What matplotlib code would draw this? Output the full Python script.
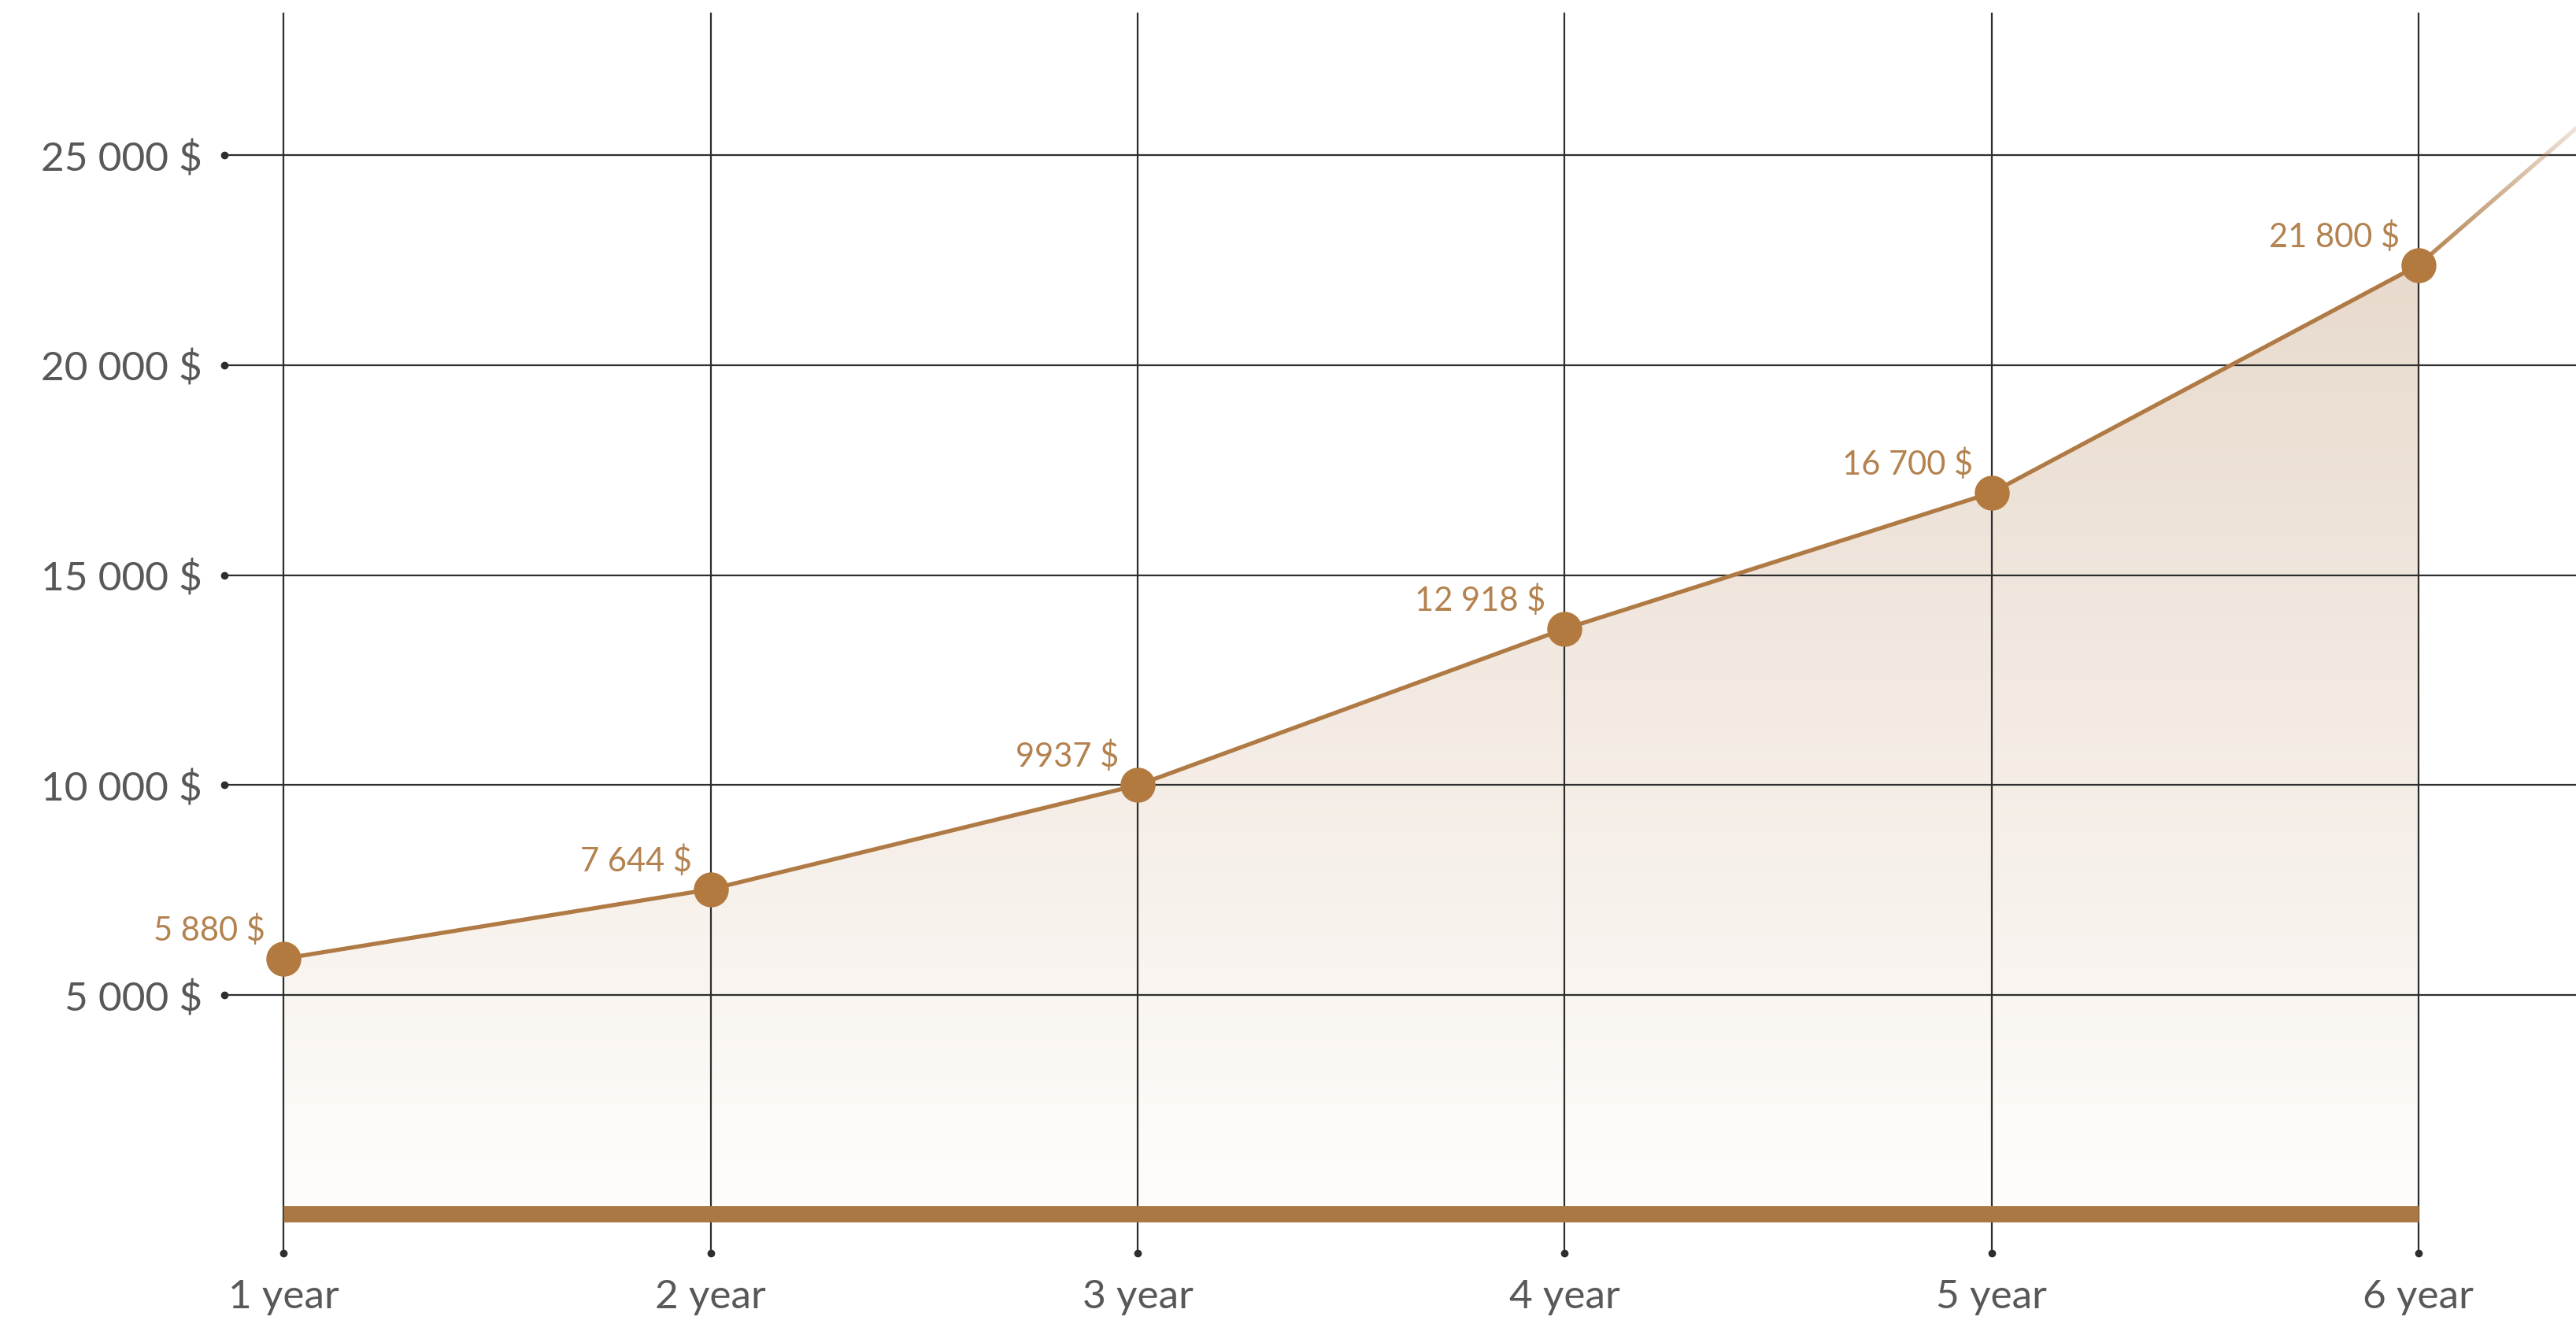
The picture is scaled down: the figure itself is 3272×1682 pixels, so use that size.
import numpy as np
import matplotlib
matplotlib.use("Agg")
import matplotlib.pyplot as plt
from matplotlib.collections import LineCollection
from matplotlib.patches import Polygon
from matplotlib.colors import to_rgb

# ---------------- data ----------------
years = [1, 2, 3, 4, 5, 6]
x_labels = ["1 year", "2 year", "3 year", "4 year", "5 year", "6 year"]
values = [5870, 7520, 10000, 13720, 16960, 22380]
value_labels = ["5 880 $", "7 644 $", "9937 $", "12 918 $", "16 700 $", "21 800 $"]
trend_year = 7
trend_value = 31200          # where the fading continuation heads to
y_ticks = [5000, 10000, 15000, 20000, 25000]
y_tick_labels = ["5 000 $", "10 000 $", "15 000 $", "20 000 $", "25 000 $"]

# ---------------- style ----------------
LINE_C = "#B07A45"
DOT_C = "#B37A40"
BAR_C = "#A97843"
LABEL_C = "#B3824F"
GRID_C = "#2e2e2e"
TEXT_C = "#585858"
FONT = ["Lato", "DejaVu Sans"]
plt.rcParams["font.family"] = FONT

W, H = 3273, 1683
fig = plt.figure(figsize=(W / 100, H / 100), dpi=100)
left_px, right_px, top_px, bot_px = 285, 3273, 17, 1593
ax = fig.add_axes([left_px / W, (H - bot_px) / H, (right_px - left_px) / W, (bot_px - top_px) / H])

XMIN, XMAX = 0.861, 6.371
YMIN, YMAX = -1143, 28393

for s in ax.spines.values():
    s.set_visible(False)

ax.set_xticks(years)
ax.set_xticklabels(x_labels)
ax.set_yticks(y_ticks)
ax.set_yticklabels(y_tick_labels)
ax.tick_params(length=0)
ax.tick_params(axis="y", pad=20, labelsize=37, labelcolor=TEXT_C)
ax.tick_params(axis="x", pad=23, labelsize=37, labelcolor=TEXT_C)
ax.grid(True, color=GRID_C, lw=1.6)
ax.set_axisbelow(False)
for gl in ax.get_xgridlines() + ax.get_ygridlines():
    gl.set_zorder(2)

# tick dots
ax.plot([XMIN] * len(y_ticks), y_ticks, "o", ms=6, color=GRID_C, clip_on=False, zorder=3)
ax.plot(years, [YMIN] * len(years), "o", ms=6, color=GRID_C, clip_on=False, zorder=3)

# gradient fill under the line
top_rgb = np.array(to_rgb("#E8DACD"))
bot_rgb = np.array(to_rgb("#FFFDFB"))
n = 256
tt = np.linspace(0, 1, n)[:, None]
grad = (bot_rgb[None, :] * (1 - tt) + top_rgb[None, :] * tt)[:, None, :]
im = ax.imshow(grad, extent=[years[0], years[-1], 0, max(values)], origin="lower",
               aspect="auto", zorder=1, interpolation="bilinear")
poly = Polygon(list(zip(years, values)) + [(years[-1], 0), (years[0], 0)],
               closed=True, facecolor="none", edgecolor="none")
ax.add_patch(poly)
im.set_clip_path(poly)

# fading overlays (top and right edges)
def white_fade(extent, horizontal, a0, a1):
    m = 128
    a = np.linspace(a0, a1, m)
    arr = np.ones((1, m, 4)) if horizontal else np.ones((m, 1, 4))
    if horizontal:
        arr[0, :, 3] = a
    else:
        arr[:, 0, 3] = a
    ax.imshow(arr, extent=extent, origin="lower", aspect="auto", zorder=2.5,
              interpolation="bilinear")

white_fade([XMIN, XMAX, 26600, YMAX], False, 0.0, 0.95)
white_fade([6.10, XMAX, YMIN, YMAX], True, 0.0, 0.85)

# bottom bar
ax.plot([years[0], years[-1]], [-206, -206], color=BAR_C, lw=15, solid_capstyle="butt", zorder=3)

# main line
ax.plot(years, values, color=LINE_C, lw=3.8, zorder=4, solid_capstyle="round")

# fading continuation
xs = np.linspace(years[-1], trend_year, 200)
ys = values[-1] + (trend_value - values[-1]) * (xs - years[-1]) / (trend_year - years[-1])
pts = np.column_stack([xs, ys]).reshape(-1, 1, 2)
segs = np.concatenate([pts[:-1], pts[1:]], axis=1)
frac = np.clip((xs[:-1] - years[-1]) / (XMAX - years[-1]), 0, 1)
base = np.array(to_rgb(LINE_C))
cols = [(*base, 1 - 0.8 * f) for f in frac]
lc = LineCollection(segs, colors=cols, linewidths=3.8, zorder=4)
ax.add_collection(lc)

# markers
ax.plot(years, values, "o", ms=31, color=DOT_C, zorder=5)

# value labels
for x, v, lab in zip(years, values, value_labels):
    ax.annotate(lab, (x, v), xytext=(-17, 27), textcoords="offset points",
                ha="right", va="center", fontsize=30, color=LABEL_C, zorder=6)

ax.set_xlim(XMIN, XMAX)
ax.set_ylim(YMIN, YMAX)

fig.savefig("out.png", dpi=100, facecolor="white")
